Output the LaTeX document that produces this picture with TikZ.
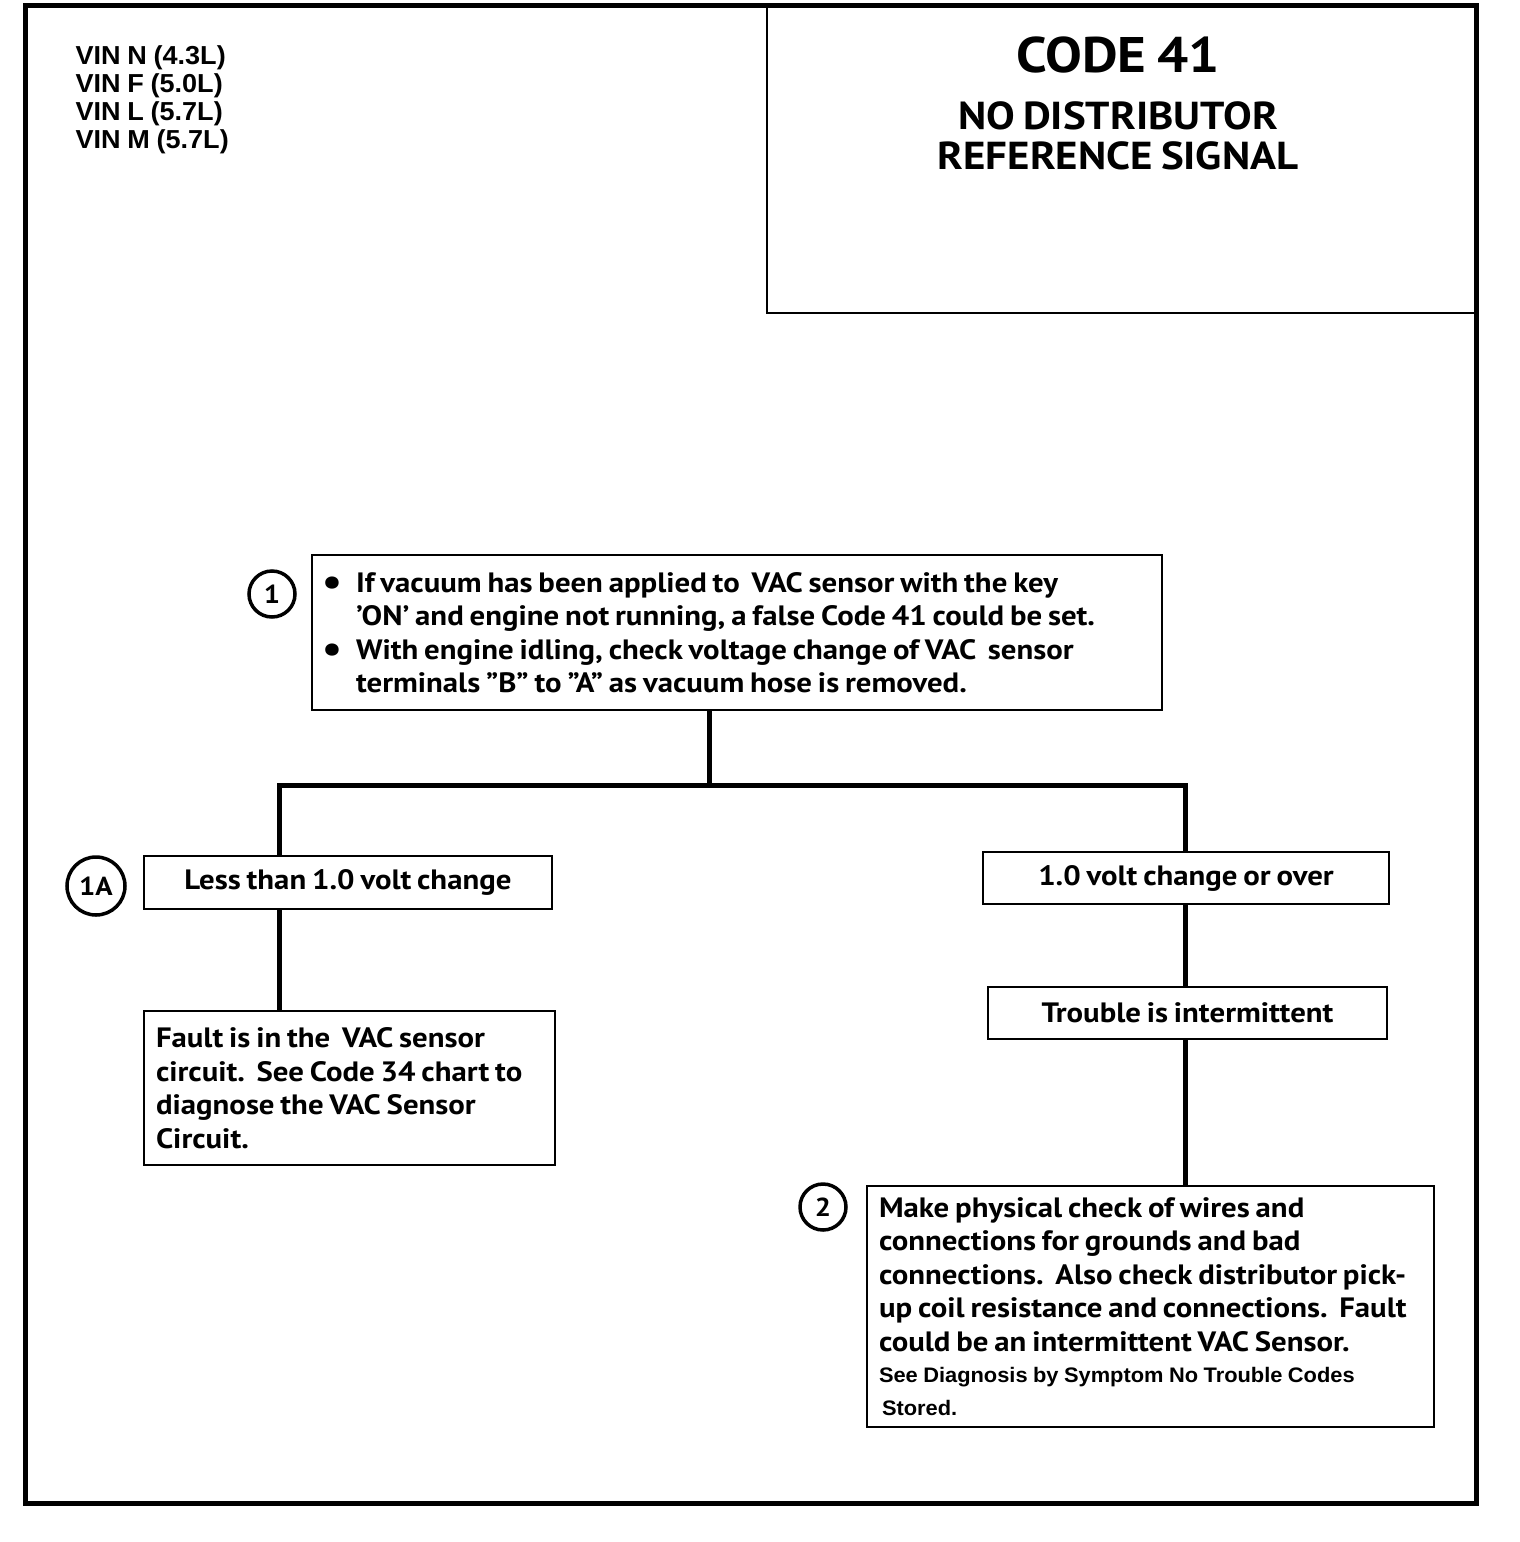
\documentclass[tikz,border=0pt]{standalone}
\usepackage{fontspec}
\setmainfont{PT Sans}[FakeStretch=1.1, WordSpace=0.75]
\newfontfamily\helvfont{Liberation Sans}[FakeStretch=1.04, WordSpace=0.9]
\usetikzlibrary{calc}

\newcommand{\chartbullet}{\makebox[24pt][l]{\hspace*{-10pt}\raisebox{-3pt}{\fontsize{40}{0}\selectfont\textbullet}}}

\tikzset{
  %% frame : outer border of the chart page
  frame/.style={draw=black, line width=5pt},
  %% titlebox : box round the code title
  titlebox/.style={
    rectangle,
    draw=black,
    line width=2pt,
    minimum width=708pt,
    minimum height=307pt,
    inner sep=0pt
  },
  %% chartbox : a box of the diagnosis chart
  chartbox/.style={
    rectangle,
    draw=black,
    line width=2pt,
    inner sep=0pt,
    align=center,
    font=\bfseries\fontsize{28}{33.5}\selectfont
  },
  %% notebox : a chart box with left aligned text
  notebox/.style={
    chartbox,
    align=flush left,
    inner xsep=12pt
  },
  %% stepmark : circled step number
  stepmark/.style={
    circle,
    draw=black,
    line width=3.5pt,
    minimum size=46pt,
    inner sep=0pt,
    font=\bfseries\fontsize{26}{26}\selectfont
  },
  %% link : connection between two boxes
  link/.style={draw=black, line width=5pt}
}

\begin{document}
\begin{tikzpicture}
  [x=1pt,
  y=-1pt]

  \useasboundingbox (0,0) rectangle (1520,1542);

  %% Frame and title
  \draw [frame] (25,5) rectangle (1476,1503);

  \node (vin) [anchor=north west, align=left,
    font=\helvfont\bfseries\fontsize{26}{28}\selectfont] at (72,42) {%
    VIN N (4.3L)\\
    VIN F (5.0L)\\
    VIN L (5.7L)\\
    VIN M (5.7L)};

  \node (title) [titlebox, anchor=north west] at (766,5) {};
  \node (code) [font=\bfseries\fontsize{50}{50}\selectfont] at (1118,55) {CODE 41};
  \node (subtitle) [align=center,
    font=\bfseries\fontsize{39}{40}\selectfont] at (1118,136) {%
    NO DISTRIBUTOR\\
    REFERENCE SIGNAL};

  %% Step 1
  \node (check) [notebox, anchor=north west, inner xsep=20pt,
    text width=810pt, minimum height=155pt] at (311,554) {%
    \chartbullet If vacuum has been applied to\ \ VAC sensor with the key\\
    \hspace*{24pt}\symbol{39}ON\symbol{39} and engine not running, a false Code 41 could be set.\\
    \chartbullet With engine idling, check voltage change of VAC\ \ sensor\\
    \hspace*{24pt}terminals \symbol{34}B\symbol{34} to \symbol{34}A\symbol{34} as vacuum hose is removed.};
  \node (mark1) [stepmark] at (272,594) {1};

  %% Left branch
  \node (lesschange) [chartbox, anchor=north west,
    minimum width=408pt, minimum height=53pt] at (143,855) {%
    Less than 1.0 volt change};
  \node (mark1a) [stepmark, minimum size=58pt] at (96,886) {1A};

  \node (fault) [notebox, anchor=north west,
    text width=387pt, minimum height=154pt] at (143,1010) {%
    Fault is in the\ \ VAC sensor\\
    circuit.\ \ See Code 34 chart to\\
    diagnose the VAC Sensor\\
    Circuit.};

  %% Right branch
  \node (overchange) [chartbox, anchor=north west,
    minimum width=406pt, minimum height=52pt] at (982,851) {%
    1.0 volt change or over};

  \node (intermittent) [chartbox, anchor=north west,
    minimum width=399pt, minimum height=52pt] at (987,986) {%
    Trouble is intermittent};

  \node (physical) [notebox, anchor=north west,
    text width=543pt, minimum height=241pt] at (866,1185) {%
    Make physical check of wires and\\
    connections for grounds and bad\\
    connections.\ \ Also check distributor pick-\\
    up coil resistance and connections.\ \ Fault\\
    could be an intermittent VAC Sensor.\\[2pt]
    {\helvfont\fontsize{21}{29}\selectfont See Diagnosis by Symptom No Trouble Codes\\
    \hspace*{3pt}Stored.}};
  \node (mark2) [stepmark] at (823,1207) {2};

  %% Connections
  \coordinate (mjoin) at (709,785);
  \coordinate (ljoin) at (279,785);
  \coordinate (rjoin) at (1185,785);
  \draw [link] (check.south -| mjoin) -- (mjoin);
  \draw [link] (lesschange.north -| ljoin) -- (ljoin) -- (rjoin)
    -- (overchange.north -| rjoin);
  \draw [link] (lesschange.south -| ljoin) -- (fault.north -| ljoin);
  \draw [link] (overchange.south -| rjoin) -- (intermittent.north -| rjoin);
  \draw [link] (intermittent.south -| rjoin) -- (physical.north -| rjoin);

\end{tikzpicture}
\end{document}
